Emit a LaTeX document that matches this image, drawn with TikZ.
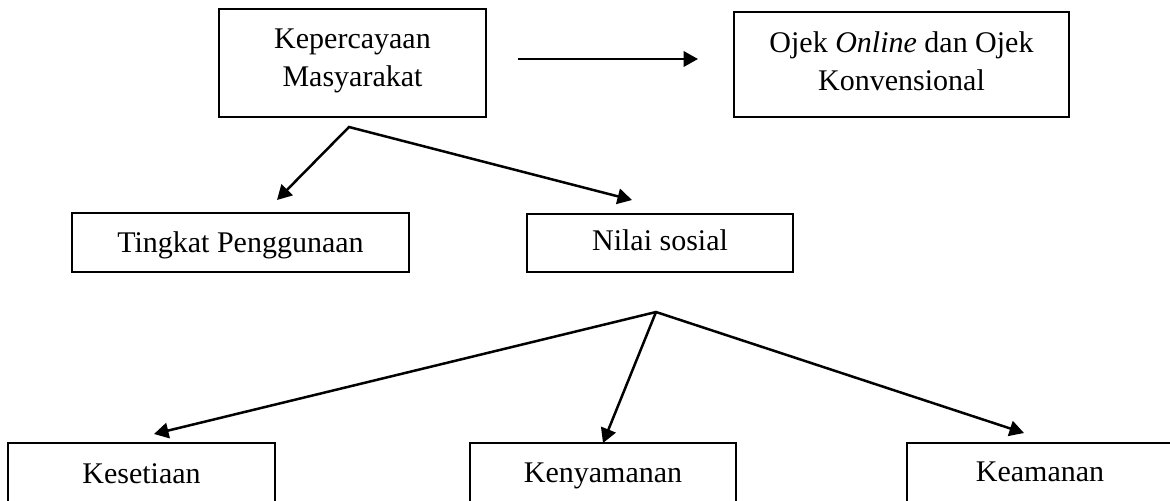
\documentclass[tikz,border=0pt]{standalone}
\usepackage{fontspec}
\setmainfont{Liberation Serif}
\usetikzlibrary{arrows.meta}
\def\pxu{0.4pt}
\begin{document}
\begin{tikzpicture}[x=0.4pt,y=-0.4pt,
  box/.style={draw, line width=0.8pt, inner sep=0pt},
  txt/.style={inner sep=0pt, font=\fontsize{12}{15.2}\selectfont, align=center},
  conn/.style={line width=1pt, line join=miter, -{Triangle[length=5.8pt,width=6.2pt]}},
  conn2/.style={line width=1pt, line join=miter, {Triangle[length=5.8pt,width=6.2pt]}-{Triangle[length=5.8pt,width=6.2pt]}}]
\useasboundingbox (0,0) rectangle (1170,500);
\clip (0,0) rectangle (1170,500);

% boxes
\node[box, minimum width=267*\pxu, minimum height=108*\pxu] (kep) at (352.5,63) {};
\node[txt] (keptxt) at (352.5,61) {Kepercayaan\\Masyarakat};

\node[box, minimum width=335*\pxu, minimum height=105*\pxu] (ojek) at (901.5,64.5) {};
\node[txt] (ojektxt) at (901.5,61) {Ojek \textit{Online} dan Ojek\\Konvensional};

\node[box, minimum width=337*\pxu, minimum height=59*\pxu] (ting) at (240.5,242.5) {};
\node[txt, anchor=base] (tingtxt) at (240.5,252) {Tingkat Penggunaan};

\node[box, minimum width=266*\pxu, minimum height=58*\pxu] (nilai) at (660,243) {};
\node[txt, anchor=base] (nilaitxt) at (660,250) {Nilai sosial};

\node[box, minimum width=267*\pxu, minimum height=67*\pxu] (setia) at (141.5,476.5) {};
\node[txt, anchor=base] (setiatxt) at (141.5,483) {Kesetiaan};

\node[box, minimum width=266*\pxu, minimum height=67*\pxu] (nyaman) at (603,476.5) {};
\node[txt, anchor=base] (nyamantxt) at (603,482) {Kenyamanan};

\node[box, minimum width=266*\pxu, minimum height=67*\pxu] (aman) at (1040,476) {};
\node[txt, anchor=base] (amantxt) at (1040,481) {Keamanan};

% connector points
\coordinate (h1) at (518,59);
\coordinate (h2) at (698,59);
\coordinate (ap1) at (349,127);
\coordinate (t1) at (277,200);
\coordinate (t2) at (632,200);
\coordinate (ap2) at (656,312);
\coordinate (t3) at (154,434);
\coordinate (t4) at (603,443);
\coordinate (t5) at (1024,433);

\draw[conn] (h1) -- (h2);
\draw[conn2] (t1) -- (ap1) -- (t2);
\draw[conn2] (t3) -- (ap2) -- (t5);
\draw[conn] (ap2) -- (t4);
\end{tikzpicture}
\end{document}
